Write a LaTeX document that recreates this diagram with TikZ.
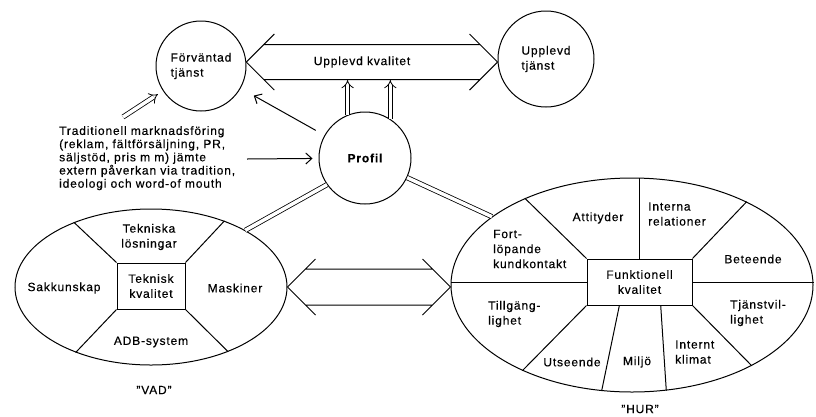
\documentclass[tikz,border=0pt]{standalone}
\usepackage{fontspec}
\setmainfont{Liberation Sans}[LetterSpace=7,FakeBold=0.4]
\usetikzlibrary{shapes.geometric,arrows.meta,calc}

\tikzstyle{ball}=[draw,line width=1pt,circle,inner sep=0pt,align=left]
\tikzstyle{oval}=[draw,line width=1pt,ellipse,inner sep=0pt]
\tikzstyle{core}=[draw,line width=1pt,rectangle,inner sep=0pt,align=center]
\tikzstyle{lbl}=[inner sep=0pt,align=left]
\tikzstyle{dbl}=[draw,line width=0.8pt,double,double distance=3.5pt]
\tikzstyle{dblarrow}=[dbl,-{Implies[scale=1.7]}]
\tikzstyle{link}=[draw,line width=1pt,-{Straight Barb[length=6pt,width=11pt]}]
\newcommand{\hollowarrow}[3]{%
  \draw[line width=1pt] (#1) -- ++(28,-28) (#1) -- ++(28,28)
    (#2) -- ++(-28,-28) (#2) -- ++(-28,28)
    ($(#1)+(#3,-#3)$) -- ($(#2)+(-#3,-#3)$)
    ($(#1)+(#3,#3)$) -- ($(#2)+(-#3,#3)$);
}

\begin{document}
\begin{tikzpicture}[x=1pt,y=-1pt,font=\fontsize{12}{15}\selectfont]
    \useasboundingbox (0,0) rectangle (816,416);
    % the three circles
    \node[ball,minimum size=90pt] (F) at (201,66) {Förväntad\\tjänst};
    \node[ball,minimum size=96pt] (U) at (546,59) {Upplevd\\tjänst};
    \node[ball,minimum size=92pt,font=\fontsize{12}{15}\selectfont\bfseries] (P) at (365,158) {Profil};

    % Upplevd kvalitet between the upper circles
    \coordinate (ukl) at (F.5);
    \coordinate (ukr) at (ukl -| U.west);
    \hollowarrow{ukl}{ukr}{17.5}
    \node[lbl] (uk) at (362,62) {Upplevd kvalitet};
    \coordinate (ukb) at ($(ukl)+(0,18)$);
    \foreach \ang in {112,57}
        \draw[dblarrow] (P.\ang) -- (P.\ang |- ukb);

    % marketing text and its arrows
    \node[lbl,anchor=north west,font=\fontsize{12}{13.2}\selectfont] (trad) at (59,126)
        {Traditionell marknadsföring\\(reklam, fältförsäljning, PR,\\säljstöd, pris m m) jämte\\extern påverkan via tradition,\\ideologi och word-of mouth};
    \coordinate (tradtop) at (123,117);
    \coordinate (tradend) at (247,159);
    \draw[dblarrow,shorten >=6pt] (tradtop) -- (F);
    \path[link,shorten >=6pt] (tradend) -- (P);
    \path[link,shorten <=10pt,shorten >=15pt] (P) -- (F);

    % VAD
    \node[oval,minimum width=272pt,minimum height=156pt] (vad) at (151,287) {};
    \node[core,minimum width=68pt,minimum height=46pt] (tk) at (151,286) {Teknisk\\kvalitet};
    \foreach \corner/\ang in {north west/140,north east/42,south west/221,south east/320}
        \draw[line width=1pt] (tk.\corner) -- (vad.\ang);
    \node[lbl,align=center] (tl) at (149,237) {Tekniska\\lösningar};
    \node[lbl] (sk) at (64,288) {Sakkunskap};
    \node[lbl] (ma) at (235,288) {Maskiner};
    \node[lbl] (adb) at (151,342) {ADB-system};
    \node[lbl] (vadtxt) at (154,390) {"VAD"};

    % HUR
    \node[oval,minimum width=362pt,minimum height=214pt] (hur) at (632,285) {};
    \node[core,minimum width=105pt,minimum height=46pt] (fk) at (639.5,282) {Funktionell\\kvalitet};
    \draw[line width=1pt] (fk.west) -- (fk.west -| hur.west)
                 (fk.east) -- (fk.east -| hur.east)
                 (fk.north) -- (fk.north |- hur.north);
    \foreach \corner/\ang in {north west/141,north east/36,south east/-34,south west/218}
        \draw[line width=1pt] (fk.\corner) -- (hur.\ang);
    \foreach \pos/\ang in {0.31/254,0.7/288}
        \draw[line width=1pt] ($(fk.south west)!\pos!(fk.south east)$) -- (hur.\ang);
    \node[lbl,anchor=west] (fl) at (493,249) {Fort-\\löpande\\kundkontakt};
    \node[lbl] (at) at (598,218) {Attityder};
    \node[lbl,anchor=west] (ir) at (648,214) {Interna\\relationer};
    \node[lbl] (be) at (753,259) {Beteende};
    \node[lbl,anchor=west] (tv) at (730,313) {Tjänstvil-\\lighet};
    \node[lbl,anchor=west] (ik) at (675,352) {Internt\\klimat};
    \node[lbl] (mi) at (637,362) {Miljö};
    \node[lbl] (ut) at (572,362) {Utseende};
    \node[lbl,anchor=west] (tg) at (488,314) {Tillgäng-\\lighet};
    \node[lbl] (hurtxt) at (640,409) {"HUR"};

    % links from Profil to the ovals
    \draw[dbl] (P.215) -- (vad.31);
    \draw[dbl] (P.-25) -- (hur.154);
    \coordinate (vl) at (vad.east);
    \coordinate (hl) at (vad.east -| hur.west);
    \hollowarrow{vl}{hl}{18}
\end{tikzpicture}
\end{document}
